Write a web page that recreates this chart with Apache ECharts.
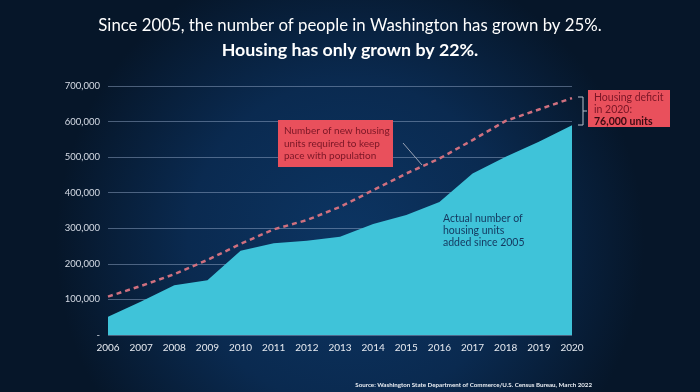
<!DOCTYPE html>
<html>
<head>
<meta charset="utf-8">
<script src="https://cdn.jsdelivr.net/npm/echarts@6/dist/echarts.min.js"></script>
<style>
html,body{margin:0;padding:0;background:#071a33;}
#chart{width:700px;height:392px;}
</style>
</head>
<body>
<div id="chart"></div>
<script>
const years = ['2006','2007','2008','2009','2010','2011','2012','2013','2014','2015','2016','2017','2018','2019','2020'];
const actualUnits = [51000, 94000, 140000, 154000, 237000, 258000, 265000, 276000, 312000, 337000, 374000, 454000, 501000, 543000, 590000];
const requiredUnits = [108000, 138000, 171000, 211000, 256000, 297000, 323000, 360000, 407000, 454000, 496000, 548000, 602000, 634000, 666000];
const yTicks = [0, 100000, 200000, 300000, 400000, 500000, 600000, 700000];

const chart = echarts.init(document.getElementById('chart'));
const option = {
  backgroundColor: {
    type: 'radial', x: 0.5, y: 0.62, r: 0.75,
    colorStops: [
      {offset: 0, color: '#0c3563'},
      {offset: 0.55, color: '#0a2a50'},
      {offset: 1, color: '#061629'}
    ]
  },
  animation: false,
  title: [
    {
      text: 'Since 2005, the number of people in Washington has grown by 25%.',
      left: 'center', top: 12,
      textStyle: {color: '#ffffff', fontSize: 16.8, fontWeight: 'normal', fontFamily: 'Lato'}
    },
    {
      text: 'Housing has only grown by 22%.',
      left: 'center', top: 36,
      textStyle: {color: '#ffffff', fontSize: 17.8, fontWeight: 'bold', fontFamily: 'Lato'}
    },
    {
      text: 'Source: Washington State Department of Commerce/U.S. Census Bureau, March 2022',
      right: 103, top: 377,
      textStyle: {color: '#e8ecf2', fontSize: 6.2, fontWeight: 'bold', fontFamily: 'Lato'}
    }
  ],
  grid: {left: 108, right: 128, top: 86, bottom: 57},
  xAxis: {
    type: 'category',
    data: years,
    boundaryGap: false,
    axisLine: {show: false},
    axisTick: {show: false},
    axisLabel: {color: '#e6eaf0', fontSize: 10, fontFamily: 'Lato', margin: 8}
  },
  yAxis: {
    type: 'value',
    min: yTicks[0], max: yTicks[yTicks.length - 1], interval: 100000,
    axisLine: {show: false},
    axisTick: {show: false},
    splitLine: {lineStyle: {color: 'rgba(160,180,210,0.45)', width: 1}},
    axisLabel: {
      color: '#d6dce6', fontSize: 9.5, fontFamily: 'Lato', margin: 8,
      formatter: v => v === 0 ? '-' : v.toLocaleString('en-US')
    }
  },
  series: [
    {
      type: 'line',
      data: actualUnits,
      symbol: 'none',
      lineStyle: {width: 0},
      itemStyle: {color: '#3fc3d9'},
      areaStyle: {color: '#3fc3d9', opacity: 1},
      z: 2
    },
    {
      type: 'line',
      data: requiredUnits,
      symbol: 'none',
      lineStyle: {color: '#d0707f', width: 2.5, type: [5, 4]},
      itemStyle: {color: '#d0707f'},
      z: 3
    }
  ],
  graphic: [
    {type: 'line', shape: {x1: 403, y1: 143, x2: 422, y2: 165}, style: {stroke: '#9aa3b5', lineWidth: 1}, z: 10},
    {type: 'rect', shape: {x: 278, y: 120, width: 115, height: 47}, style: {fill: '#e9505c'}, z: 10},
    {type: 'text', left: 284, top: 125, z: 11, style: {
      text: 'Number of new housing\nunits required to keep\npace with population',
      fill: '#7a1626', fontSize: 10, lineHeight: 12.3, fontFamily: 'Lato'}},
    {type: 'rect', shape: {x: 588, y: 90, width: 82, height: 37}, style: {fill: '#e9505c'}, z: 10},
    {type: 'text', left: 594, top: 92, z: 11, style: {
      rich: {
        a: {fill: '#7a1626', fontSize: 10.5, lineHeight: 12, fontFamily: 'Lato'},
        b: {fill: '#3a0a12', fontSize: 10.5, lineHeight: 12, fontFamily: 'Lato', fontWeight: 'bold'}
      },
      text: '{a|Housing deficit}\n{a|in 2020:}\n{b|76,000 units}'}},
    {type: 'polyline', shape: {points: [[578, 97], [583, 97], [583, 125], [578, 125]]}, style: {stroke: '#b8c0cc', lineWidth: 1, fill: null}, z: 10},
    {type: 'line', shape: {x1: 583, y1: 111, x2: 587, y2: 111}, style: {stroke: '#b8c0cc', lineWidth: 1}, z: 10},
    {type: 'text', left: 443, top: 213, z: 11, style: {
      text: 'Actual number of\nhousing units\nadded since 2005',
      fill: '#14385f', fontSize: 10.5, lineHeight: 12, fontFamily: 'Lato'}}
  ]
};
chart.setOption(option);
</script>
</body>
</html>
